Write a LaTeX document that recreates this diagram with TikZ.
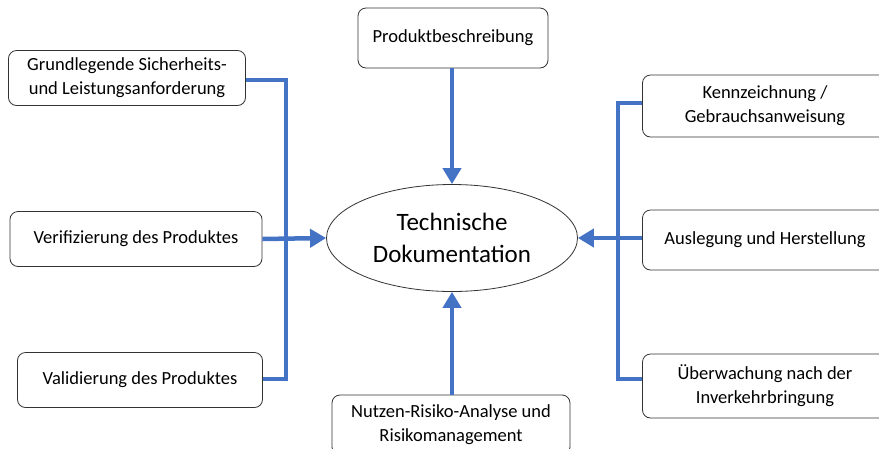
\documentclass[tikz,border=0pt]{standalone}
\usepackage{fontspec}
\setmainfont{Carlito}
\usetikzlibrary{arrows.meta,shapes.geometric}
\definecolor{conblue}{RGB}{68,114,196}
\begin{document}
\begin{tikzpicture}[x=1pt,y=-1pt,
  box/.style={draw=black!80,line width=0.8pt,rounded corners=8pt,fill=white,align=center,font=\fontsize{18.5}{24}\selectfont,inner sep=0pt},
  conn/.style={draw=conblue,line width=4.5pt},
  arr/.style={conn,-{Triangle[width=18pt,length=16pt]}}]
\useasboundingbox (0,0) rectangle (879,448);
\node[box,minimum width=237pt,minimum height=55pt] (b1) at (127,78) {Grundlegende Sicherheits-\\und Leistungsanforderung};
\node[box,minimum width=252pt,minimum height=55pt] (b2) at (136,239) {Verifizierung des Produktes};
\node[box,minimum width=245pt,minimum height=55pt] (b3) at (140,380) {Validierung des Produktes};
\node[box,minimum width=190pt,minimum height=60pt] (top) at (453,38) {Produktbeschreibung};
\node[box,minimum width=238pt,minimum height=60pt] (bot) at (451,425) {Nutzen-Risiko-Analyse und\\Risikomanagement};
\node[box,minimum width=245pt,minimum height=62pt] (r1) at (765,106) {Kennzeichnung /\\Gebrauchsanweisung};
\node[box,minimum width=245pt,minimum height=60pt] (r2) at (765,240) {Auslegung und Herstellung};
\node[box,minimum width=245pt,minimum height=64pt] (r3) at (765,386) {Überwachung nach der\\Inverkehrbringung};
\node[ellipse,draw=black!80,line width=0.8pt,fill=white,minimum width=251pt,minimum height=107pt,inner sep=0pt,align=center,font=\fontsize{25}{32}\selectfont] (c) at (452,238) {Technische\\Dokumentation};
\coordinate (lt) at (286,80);
\coordinate (lb) at (286,379);
\coordinate (rt) at (618,103);
\coordinate (rb) at (618,379);
\draw[conn] (b1.east |- lt) -- (lt) -- (lb) -- (b3.east |- lb);
\draw[arr] (b2.east) -- (c.west);
\draw[conn] (r1.west |- rt) -- (rt) -- (rb) -- (r3.west |- rb);
\draw[arr] (r2.west |- c.east) -- (c.east);
\draw[arr] (top.south -| c.north) -- (c.north);
\draw[arr] (bot.north -| c.south) -- (c.south);
\end{tikzpicture}
\end{document}
